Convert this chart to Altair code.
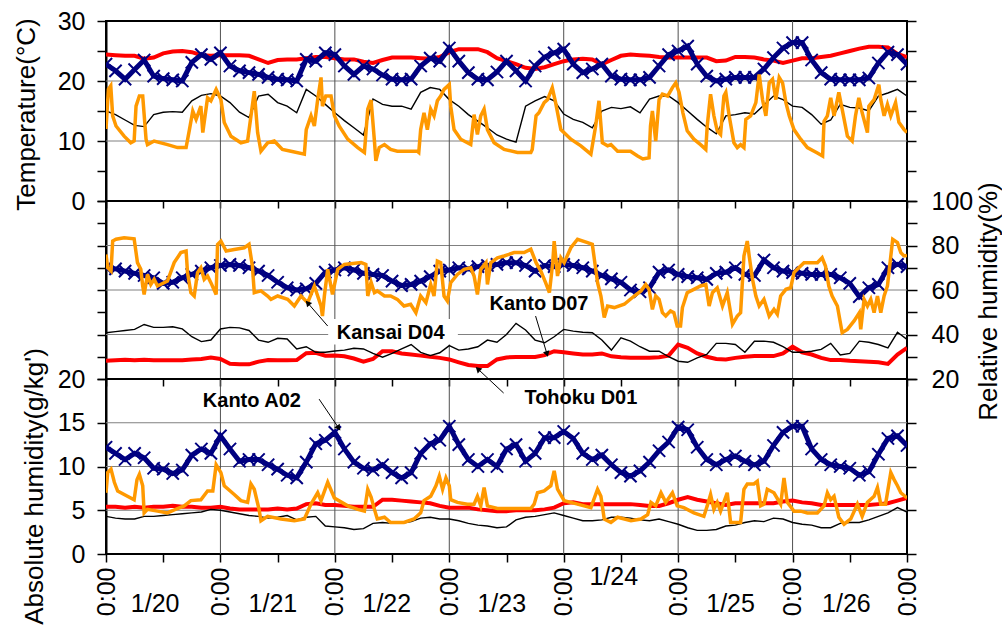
import altair as alt
import pandas as pd

FONT = "Liberation Sans"

# ---- time base: hours from 1/20 0:00 to 1/27 0:00 ----
HOURS = list(range(0, 169, 2))            # 2-hourly readings
DAY_BOUNDS = [24, 48, 72, 96, 120, 144]
HALF_DAYS = list(range(0, 169, 12))

# ---- temperature (deg C), 2-hourly ----
temp_tohoku_d01 = [
    24.4, 24.3, 24.2, 24.2, 23.7, 23.9, 24.6, 24.9, 25.0, 24.8, 24.3, 24.2, 24.3, 24.3, 24.3,
    24.2, 23.6, 23.0, 23.5, 23.6, 23.6, 23.8, 24.0, 24.0, 23.8, 23.6, 23.6, 23.2, 23.0,
    23.5, 23.9, 23.9, 23.9, 23.8, 23.7, 24.0, 24.8, 25.3, 25.3, 25.3, 24.8, 23.8, 23.3,
    22.8, 22.2, 22.0, 22.3, 22.8, 23.3, 23.6, 23.7, 23.6, 22.8, 23.5, 24.2, 24.4, 24.3,
    24.2, 24.0, 23.9, 23.9, 23.9, 23.9, 23.9, 23.3, 23.4, 24.0, 24.0, 23.9, 23.6, 23.4,
    23.0, 23.4, 23.8, 23.8, 24.0, 24.2, 24.6, 25.0, 25.4, 25.7, 25.7, 25.6, 24.5, 24.0,
]
temp_kanto_a02 = [
    22.8, 21.7, 20.3, 21.9, 23.5, 20.8, 20.4, 20.2, 20.0, 23.1, 24.4, 23.6, 24.7, 22.5, 21.7,
    21.4, 21.1, 20.6, 20.3, 20.2, 20.0, 23.6, 23.3, 24.7, 24.4, 22.5, 21.1, 22.5, 22.0,
    21.0, 20.3, 20.2, 20.3, 22.5, 23.8, 23.3, 25.5, 23.3, 21.4, 20.3, 20.2, 21.5, 23.3,
    21.7, 20.0, 22.5, 24.0, 24.7, 25.3, 22.8, 21.4, 22.0, 22.8, 20.8, 20.3, 20.2, 20.2,
    20.6, 22.5, 24.4, 25.0, 25.8, 22.8, 20.8, 20.0, 20.3, 20.6, 20.6, 20.6, 22.0, 23.9,
    25.5, 26.4, 26.4, 23.5, 21.4, 20.3, 20.2, 20.2, 20.2, 20.5, 23.0, 24.8, 24.4, 22.8,
]
temp_kanto_d07 = [
    15.0, 14.4, 13.5, 12.6, 12.4, 14.4, 14.8, 14.9, 14.8, 16.7, 17.6, 17.9, 17.5, 16.4, 14.8,
    13.9, 17.5, 17.8, 16.4, 15.8, 14.7, 18.6, 17.5, 16.1, 14.7, 13.4, 12.2, 11.0, 17.0,
    16.1, 15.8, 15.8, 15.3, 18.1, 18.9, 18.6, 16.9, 15.8, 14.4, 13.3, 12.2, 11.0, 10.3,
    9.8, 15.8, 16.7, 17.4, 16.7, 14.5, 13.6, 13.1, 12.2, 15.0, 15.6, 15.4, 15.7, 14.7,
    17.0, 17.5, 17.5, 16.4, 15.0, 13.6, 12.3, 11.2, 14.2, 14.4, 14.7, 14.5, 16.0, 17.5,
    16.9, 15.8, 15.6, 14.4, 12.8, 13.5, 16.1, 15.6, 15.5, 15.0, 17.5, 18.0, 18.6, 17.5,
]
# Kansai D04 switches on and off sharply, so it is kept as (hour, value) turning points
temp_kansai_d04 = [
    (0, 12.0), (0.5, 18.6), (1.0, 19.2), (1.4, 14.2), (2.1, 12.5), (3.8, 10.8), (5.2, 9.7),
    (5.9, 10.0), (6.3, 15.8), (7.0, 17.5), (7.7, 17.5), (8.4, 10.3), (8.7, 9.4), (10.1, 10.0),
    (12.9, 9.4), (15.0, 8.9), (16.8, 8.9), (17.5, 11.9), (18.2, 15.0), (18.9, 13.6), (19.9, 15.8),
    (20.3, 11.4), (21.3, 17.2), (22.0, 16.7), (23.1, 18.6), (24.1, 16.9), (24.8, 13.1), (26.2, 10.8),
    (28.3, 9.7), (29.7, 10.0), (31.1, 18.3), (31.8, 11.4), (32.5, 8.3), (33.9, 9.7), (35.3, 10.0),
    (37.0, 8.6), (38.8, 8.3), (41.6, 7.8), (42.0, 11.9), (43.0, 14.2), (43.7, 12.5), (44.4, 16.9),
    (45.1, 20.6), (45.4, 15.8), (46.1, 17.5), (47.2, 17.5), (47.9, 14.2), (48.9, 12.5), (50.7, 10.3),
    (52.8, 8.9), (54.2, 8.1), (54.9, 15.3), (55.6, 16.8), (56.3, 10.0), (56.6, 6.7), (57.3, 8.9),
    (58.4, 9.4), (59.7, 8.6), (61.1, 8.3), (65.3, 8.3), (65.6, 8.1), (66.0, 11.9), (66.7, 14.7),
    (67.4, 11.9), (68.1, 15.3), (68.8, 14.2), (69.5, 16.7), (70.2, 17.5), (70.9, 18.6), (72.0, 19.4),
    (72.3, 15.8), (73.0, 11.9), (74.4, 10.3), (76.5, 9.4), (77.2, 14.4), (77.9, 11.1), (78.6, 14.2),
    (79.3, 15.3), (80.0, 11.9), (81.4, 9.7), (83.5, 8.6), (86.3, 8.1), (89.1, 8.1), (89.4, 8.6),
    (90.2, 14.2), (90.8, 14.7), (91.9, 16.4), (92.6, 16.9), (93.6, 18.9), (94.3, 16.4), (95.4, 11.9),
    (97.5, 10.3), (99.6, 9.2), (101.7, 7.8), (102.7, 12.5), (103.4, 16.7), (104.1, 9.7), (105.2, 9.2),
    (105.9, 9.4), (107.3, 8.3), (110.0, 8.3), (111.5, 7.5), (112.6, 7.0), (113.9, 7.2), (114.2, 12.5),
    (114.6, 15.0), (115.3, 10.0), (116.0, 16.9), (116.7, 17.8), (117.8, 17.5), (118.8, 18.9),
    (119.5, 19.7), (120.2, 18.1), (121.0, 14.7), (121.9, 11.7), (123.3, 10.3), (124.7, 9.4),
    (125.8, 8.6), (126.1, 12.5), (126.8, 17.8), (127.5, 14.2), (128.2, 11.7), (128.9, 11.1),
    (129.6, 17.5), (130.0, 18.1), (130.7, 14.2), (131.7, 9.7), (132.4, 8.9), (133.1, 9.4),
    (133.8, 8.9), (134.2, 13.6), (135.2, 14.2), (136.3, 16.4), (137.0, 21.1), (137.7, 16.9),
    (138.4, 14.2), (139.1, 19.7), (139.8, 20.3), (140.5, 16.9), (141.2, 20.6), (141.9, 19.7),
    (142.6, 16.4), (143.3, 14.2), (144.3, 11.9), (145.7, 10.3), (147.1, 8.9), (149.2, 8.0),
    (150.3, 7.5), (150.6, 13.3), (151.3, 14.2), (152.0, 17.2), (152.7, 14.2), (153.7, 18.1),
    (154.4, 15.3), (155.5, 10.8), (156.5, 10.0), (157.2, 14.2), (157.9, 17.2), (158.6, 14.7),
    (159.7, 11.4), (160.0, 15.8), (161.1, 16.9), (162.1, 19.4), (162.5, 16.9), (163.2, 14.2),
    (163.9, 16.1), (164.6, 14.2), (165.6, 16.4), (166.3, 13.1), (167.4, 11.9), (168.0, 11.4),
]

# ---- relative humidity (%), 2-hourly ----
rh_tohoku_d01 = [
    28.2, 28.4, 28.6, 28.4, 28.6, 28.4, 28.4, 28.4, 28.4, 28.8, 29.0, 29.6, 29.0, 26.8, 26.6,
    26.6, 27.8, 28.5, 28.4, 28.4, 28.5, 31.6, 31.8, 30.5, 30.6, 30.2, 29.2, 27.8, 29.0,
    32.5, 32.5, 31.5, 31.0, 30.5, 30.0, 29.5, 28.8, 27.5, 26.3, 25.8, 25.8, 28.8, 29.7,
    29.9, 29.9, 29.9, 30.7, 32.5, 32.0, 31.5, 31.0, 31.0, 31.5, 30.2, 29.8, 29.6, 29.6,
    29.6, 29.8, 30.5, 35.5, 34.0, 31.5, 30.0, 29.0, 28.8, 29.5, 30.0, 30.3, 30.3, 30.3,
    31.5, 34.5, 32.0, 31.0, 29.5, 28.5, 28.5, 28.2, 28.0, 27.8, 27.5, 26.8, 31.0, 34.0,
]
rh_kanto_a02 = [
    70.0, 69.5, 68.5, 67.5, 66.5, 65.5, 63.0, 63.5, 65.5, 67.0, 68.5, 70.0, 71.0, 71.5, 71.0,
    70.0, 68.5, 66.5, 63.5, 61.0, 60.0, 60.5, 63.0, 68.0, 69.0, 70.0, 69.0, 67.5, 67.0,
    66.5, 64.0, 62.0, 62.5, 64.0, 66.0, 68.5, 69.0, 70.0, 69.5, 70.5, 71.0, 71.5, 72.3,
    72.3, 71.0, 68.5, 71.0, 70.5, 71.5, 71.0, 70.0, 68.5, 66.5, 65.0, 63.5, 60.0, 59.2,
    61.0, 68.0, 69.0, 67.0, 66.0, 65.5, 64.8, 67.5, 68.0, 70.0, 67.0, 66.5, 73.5, 70.0,
    68.5, 67.8, 67.5, 67.0, 67.0, 67.0, 65.5, 63.0, 57.0, 61.0, 62.5, 70.0, 71.5, 70.5,
]
rh_kanto_d07 = [
    40.8, 41.3, 41.8, 42.3, 44.5, 43.2, 43.2, 43.5, 42.5, 39.0, 36.8, 37.5, 42.5, 43.2, 43.0,
    41.8, 37.5, 36.5, 38.3, 38.0, 33.5, 34.5, 32.0, 32.0, 32.6, 33.0, 33.8, 33.5, 31.5,
    29.8, 31.5, 33.5, 35.5, 32.0, 30.5, 31.8, 35.0, 33.0, 33.5, 34.5, 37.5, 36.5, 40.0,
    45.0, 42.0, 37.5, 36.3, 39.0, 42.3, 41.5, 41.0, 40.8, 37.5, 33.0, 38.5, 37.0, 34.5,
    32.5, 32.5, 30.0, 28.0, 27.5, 29.5, 31.0, 36.0, 36.0, 35.5, 32.0, 37.0, 37.0, 36.5,
    34.5, 32.0, 32.0, 32.5, 33.3, 36.0, 30.8, 31.5, 37.0, 36.5, 35.5, 34.0, 41.0, 37.8,
]
rh_kansai_d04 = [
    (0, 76.0), (0.35, 70.0), (1.05, 68.5), (1.4, 82.0), (2.1, 82.8), (3.8, 83.5), (5.9, 83.0),
    (6.6, 72.3), (7.3, 69.3), (7.7, 61.8), (8.0, 58.0), (8.7, 67.0), (9.4, 62.5), (10.1, 64.8),
    (10.8, 61.8), (12.9, 64.0), (14.3, 72.3), (15.7, 76.8), (16.8, 77.5), (17.1, 67.8), (17.8, 58.8),
    (18.5, 57.3), (19.2, 67.8), (19.9, 70.0), (20.6, 64.8), (21.3, 66.3), (22.0, 63.3), (23.1, 58.0),
    (23.4, 80.5), (24.1, 82.0), (25.2, 77.5), (26.9, 78.2), (29.0, 79.0), (30.0, 80.5), (30.7, 70.8),
    (31.1, 58.8), (32.5, 59.6), (33.9, 57.3), (34.6, 55.8), (36.0, 57.3), (38.1, 55.8), (39.5, 52.8),
    (40.9, 57.3), (42.3, 54.3), (43.7, 61.8), (45.1, 52.8), (45.4, 48.3), (45.8, 57.3), (46.5, 69.3),
    (47.5, 58.0), (48.6, 69.3), (50.0, 71.5), (53.5, 72.3), (54.5, 71.5), (54.9, 57.3), (55.6, 63.5),
    (56.3, 58.8), (56.9, 59.6), (58.4, 57.3), (59.7, 57.3), (61.1, 55.8), (62.5, 52.8), (63.9, 53.6),
    (65.0, 49.8), (66.0, 57.3), (67.1, 54.3), (68.1, 62.5), (68.8, 57.3), (69.5, 73.0), (70.2, 72.3),
    (70.9, 57.3), (71.6, 55.1), (72.3, 63.3), (73.7, 67.0), (75.1, 69.3), (76.5, 70.0), (77.2, 66.3),
    (77.9, 58.0), (78.6, 69.3), (79.7, 72.3), (80.0, 62.5), (80.7, 72.3), (82.1, 74.5), (83.5, 75.3),
    (85.6, 76.8), (87.7, 76.8), (89.1, 78.3), (90.2, 72.3), (91.2, 68.5), (92.2, 63.3), (93.0, 58.8),
    (93.7, 72.3), (94.0, 82.0), (94.7, 66.3), (95.4, 74.5), (96.1, 72.3), (97.5, 79.0), (98.9, 82.8),
    (101.0, 81.3), (102.0, 80.5), (103.1, 63.3), (103.8, 57.3), (104.5, 47.6), (105.2, 52.8),
    (106.6, 52.1), (108.7, 53.6), (110.8, 57.3), (112.2, 59.6), (113.2, 62.5), (113.9, 60.3),
    (114.6, 51.3), (115.3, 57.3), (116.0, 55.8), (116.7, 49.8), (117.4, 48.3), (118.4, 50.6),
    (119.1, 49.8), (119.8, 43.8), (120.5, 43.8), (120.9, 52.1), (121.9, 58.8), (123.3, 60.3),
    (124.7, 61.8), (125.8, 62.5), (126.5, 52.8), (127.2, 58.8), (128.2, 61.0), (129.3, 52.8),
    (130.3, 58.8), (131.4, 44.6), (132.4, 48.3), (133.1, 49.8), (133.8, 75.3), (134.5, 82.0),
    (134.9, 75.3), (135.6, 64.8), (136.3, 57.3), (137.0, 52.8), (138.0, 55.8), (139.1, 48.3),
    (140.1, 51.3), (140.8, 49.1), (141.5, 57.3), (142.6, 60.3), (143.6, 61.0), (144.3, 67.8),
    (145.3, 70.0), (146.4, 72.3), (149.2, 72.3), (150.2, 74.5), (150.9, 70.8), (151.6, 61.8),
    (152.3, 57.3), (153.4, 52.8), (154.4, 40.8), (155.5, 42.3), (156.9, 46.1), (158.0, 49.8),
    (158.3, 42.3), (159.0, 55.8), (159.7, 52.8), (160.4, 55.8), (161.1, 49.8), (161.8, 57.3),
    (162.5, 49.8), (163.2, 57.3), (163.9, 61.8), (165.0, 82.8), (166.0, 81.3), (166.7, 76.8),
    (167.4, 75.3), (168.0, 75.5),
]

# ---- absolute humidity (g/kg'), 2-hourly ----
ah_tohoku_d01 = [
    5.4, 5.4, 5.3, 5.4, 5.3, 5.4, 5.4, 5.5, 5.4, 5.4, 5.3, 5.3, 5.4, 5.2, 5.1,
    5.1, 5.1, 5.1, 5.2, 5.1, 5.2, 5.7, 5.8, 5.6, 5.6, 5.5, 5.4, 5.4, 5.4,
    6.2, 6.2, 6.1, 6.0, 5.9, 5.8, 5.5, 5.3, 5.3, 5.3, 5.1, 5.0, 4.9, 4.9,
    5.0, 5.0, 5.0, 5.1, 5.3, 5.8, 5.9, 5.7, 5.7, 5.7, 5.7, 5.7, 5.7, 5.6,
    5.5, 5.5, 5.8, 6.2, 6.5, 6.2, 6.0, 5.8, 5.6, 5.8, 5.8, 5.8, 5.8, 5.8,
    6.0, 6.1, 5.9, 5.8, 5.6, 5.6, 5.6, 5.6, 5.6, 5.6, 5.7, 5.8, 6.1, 6.4,
]
ah_kanto_a02 = [
    12.2, 11.5, 10.8, 11.5, 11.0, 9.8, 9.7, 9.2, 9.6, 11.3, 12.0, 11.5, 13.5, 12.0, 10.6,
    10.8, 10.8, 10.2, 9.7, 9.0, 8.7, 10.5, 12.6, 13.0, 13.9, 12.0, 10.5, 9.8, 9.6,
    10.2, 9.3, 8.7, 9.3, 11.5, 12.6, 13.0, 14.6, 12.5, 10.8, 10.0, 10.8, 10.0, 12.0,
    12.5, 10.6, 11.5, 13.3, 13.3, 14.0, 13.2, 11.5, 10.8, 11.3, 10.2, 9.3, 8.9, 9.5,
    10.5, 11.8, 12.8, 14.5, 14.2, 12.2, 10.8, 10.2, 10.8, 11.2, 10.6, 10.2, 10.6, 12.4,
    13.9, 14.6, 14.6, 12.0, 10.8, 10.2, 10.0, 9.8, 9.0, 9.4, 11.4, 13.2, 13.5, 12.4,
]
ah_kanto_d07 = [
    4.3, 4.1, 4.0, 4.0, 4.3, 4.3, 4.4, 4.5, 4.6, 4.7, 4.8, 5.1, 5.0, 4.8, 4.6,
    4.4, 4.3, 4.1, 4.2, 4.4, 3.9, 4.2, 4.3, 3.2, 3.1, 3.0, 2.8, 2.9, 3.5,
    3.6, 3.5, 3.5, 3.7, 4.1, 4.2, 4.0, 4.0, 3.8, 3.5, 3.3, 3.2, 3.0, 3.1,
    3.9, 4.2, 4.3, 4.5, 4.7, 4.4, 4.1, 3.8, 3.8, 3.9, 4.2, 4.2, 4.1, 3.9,
    3.8, 4.0, 3.7, 3.4, 3.0, 2.7, 2.7, 2.8, 3.2, 3.3, 3.6, 3.8, 3.7, 4.1,
    4.0, 3.6, 3.4, 3.3, 3.0, 3.0, 3.5, 3.6, 3.6, 3.9, 4.3, 4.7, 5.3, 4.8,
]
ah_kansai_d04 = [
    (0, 7.0), (0.35, 9.3), (1.05, 9.7), (1.75, 8.2), (2.45, 7.2), (4.5, 6.6), (5.9, 6.2), (6.5, 8.5),
    (7.0, 9.1), (7.7, 7.8), (8.0, 4.7), (8.7, 5.1), (10.8, 4.9), (12.9, 4.7), (15.0, 5.2), (16.4, 5.5),
    (17.8, 6.1), (19.9, 6.2), (21.3, 7.2), (22.4, 7.2), (23.1, 10.2), (24.1, 9.3), (24.8, 7.8),
    (26.9, 6.8), (28.3, 6.1), (29.7, 5.9), (30.4, 8.0), (31.1, 7.4), (32.1, 5.1), (32.5, 3.8),
    (33.9, 4.3), (36.7, 4.0), (39.5, 3.8), (41.6, 4.0), (43.0, 5.7), (44.4, 7.0), (45.1, 6.1),
    (46.5, 8.2), (47.9, 6.4), (50.7, 5.5), (52.8, 5.1), (54.2, 4.9), (54.9, 7.4), (55.6, 6.5),
    (56.3, 5.1), (56.9, 4.0), (58.4, 4.2), (59.7, 3.6), (62.5, 3.6), (64.6, 4.0), (66.0, 4.7),
    (66.7, 6.1), (68.1, 6.6), (69.2, 7.8), (69.9, 8.9), (70.6, 7.4), (71.3, 8.7), (72.0, 7.8),
    (72.3, 6.2), (73.7, 5.9), (75.8, 5.7), (77.2, 5.7), (77.9, 6.6), (78.6, 5.5), (79.3, 7.6),
    (80.0, 5.5), (82.1, 5.2), (85.0, 5.2), (89.1, 5.2), (89.8, 5.7), (90.5, 7.0), (91.9, 7.2),
    (93.3, 7.8), (94.0, 9.5), (94.7, 7.4), (96.1, 6.1), (98.9, 5.7), (101.7, 5.3), (103.1, 7.4),
    (103.8, 6.6), (104.5, 4.0), (105.9, 3.6), (107.3, 4.2), (110.1, 3.8), (112.2, 4.0), (113.6, 4.5),
    (114.3, 5.9), (115.3, 5.5), (116.4, 7.0), (117.4, 5.9), (118.8, 7.0), (119.8, 5.5), (121.2, 5.3),
    (123.3, 4.7), (125.4, 4.3), (126.1, 5.5), (126.8, 6.8), (127.5, 5.1), (128.2, 5.9), (128.9, 4.9),
    (130.3, 7.0), (131.0, 3.6), (133.1, 3.6), (133.8, 7.4), (134.5, 8.0), (135.9, 8.0), (136.6, 8.3),
    (137.3, 5.5), (138.0, 5.7), (138.7, 7.4), (140.1, 7.0), (141.5, 5.7), (142.2, 8.7), (142.9, 5.9),
    (144.3, 4.9), (145.7, 4.9), (147.1, 4.7), (149.2, 4.7), (150.6, 5.5), (151.3, 7.0), (152.0, 6.2),
    (152.7, 6.6), (153.7, 4.2), (154.8, 3.4), (156.2, 4.0), (157.6, 5.7), (158.6, 4.3), (159.7, 5.9),
    (161.1, 6.6), (161.8, 7.6), (162.5, 5.7), (163.5, 5.7), (164.6, 9.3), (165.3, 8.5), (166.0, 7.8),
    (166.7, 7.0), (168.0, 6.4),
]

# ---- axis ticks / gridlines ----
TEMP_DOMAIN, RH_DOMAIN, AH_DOMAIN = [0, 30], [20, 100], [0, 20]
TEMP_TICKS, TEMP_GRID = [0, 5, 10, 15, 20, 25, 30], [10, 20]
RH_TICKS, RH_GRID = [20, 30, 40, 50, 60, 70, 80, 90, 100], [40, 60, 80]
AH_TICKS, AH_GRID = [0, 5, 10, 15, 20], [5, 10, 15]

# ---- annotations ----
DATE_LABELS = ["1/20", "1/21", "1/22", "1/23", "1/24", "1/25", "1/26"]
DATE_HOURS = [10.3, 35.0, 58.9, 83.0, 106.5, 131.0, 155.3]
DATE_LEVEL = [-5.7, -5.7, -5.7, -5.7, -2.6, -5.7, -5.7]

RH_NOTES = pd.DataFrame({"label": ["Kansai D04", "Kanto D07"], "h": [59.7, 90.8], "v": [40.7, 53.7]})
RH_ARROWS = pd.DataFrame({
    "h": [46.5, 90.1, 83.4], "v": [43.8, 48.3, 13.7],
    "h2": [42.3, 92.5, 78.0], "v2": [54.2, 31.2, 24.5],
    "angle": [319, 164, 313],
})
RH_NOTE_BOX = pd.DataFrame({"h": [46.6], "h2": [73.8], "v": [47.0], "v2": [35.5]})
AH_NOTES = pd.DataFrame({"label": ["Kanto A02", "Tohoku D01"], "h": [30.6, 99.6], "v": [17.5, 17.8]})
AH_ARROWS = pd.DataFrame({"h": [44.7], "v": [17.7], "h2": [48.8], "v2": [14.4], "angle": [145]})

RED, NAVY, BLACK, ORANGE = "#FF0000", "#000080", "#000000", "#FF9900"
XMARK = "M-1,-1L1,1M-1,1L1,-1"
WIDTH = 801
X_SCALE = alt.Scale(domain=[0, 168], nice=False, zero=False)


def yenc(domain, axis=None, field="v"):
    return alt.Y(f"{field}:Q", scale=alt.Scale(domain=domain, nice=False, zero=False), axis=axis)


def frame(values):
    return pd.DataFrame({"h": HOURS, "v": values})


def pairs(points):
    return pd.DataFrame({"h": [p[0] for p in points], "v": [p[1] for p in points]})


def every(step):
    return f"datum.value % {step} == 0 ? datum.label : ''"


def build_panel(domain, grid, left_axis, right_axis, x_axis, tohoku, kanto_a02, kanto_d07, kansai,
                height, box=None, arrows=None, notes=None, extra_text=None):
    """One strip of the chart: gridlines, the four dwellings, and any call-outs."""
    def X(field="h"):
        return alt.X(f"{field}:Q", scale=X_SCALE, axis=x_axis)

    layers = [
        alt.Chart(pd.DataFrame({"v": grid})).mark_rule(color="#808080", strokeWidth=1).encode(
            x=X(), y=yenc(domain, axis=left_axis)).transform_calculate(h="0"),
        alt.Chart(pd.DataFrame({"h": DAY_BOUNDS})).mark_rule(color="#505050", strokeWidth=1).encode(x=X()),
        alt.Chart(pd.DataFrame({"h": [0], "v": [domain[0]]})).mark_rule(opacity=0).encode(
            x=X(), y=yenc(domain, axis=right_axis)),
    ]
    # the hgrid layer above only carries the axis; draw horizontal gridlines full width
    layers[0] = alt.Chart(pd.DataFrame({"v": grid})).mark_rule(color="#808080", strokeWidth=1).encode(
        y=yenc(domain, axis=left_axis))
    if box is not None:
        layers.append(alt.Chart(box).mark_rect(color="white").encode(
            x=X(), x2="h2:Q", y=yenc(domain), y2="v2:Q"))
    layers.append(alt.Chart(frame(tohoku)).mark_line(color=RED, strokeWidth=4, clip=True).encode(
        x=X(), y=yenc(domain)))
    a02 = frame(kanto_a02)
    layers.append(alt.Chart(a02).mark_line(color=NAVY, strokeWidth=5, clip=True).encode(
        x=X(), y=yenc(domain)))
    layers.append(alt.Chart(a02).mark_point(shape=XMARK, size=150, color=NAVY, strokeWidth=2,
                                            filled=False, opacity=1, clip=True).encode(
        x=X(), y=yenc(domain)))
    layers.append(alt.Chart(frame(kanto_d07)).mark_line(color=BLACK, strokeWidth=1.4, clip=True).encode(
        x=X(), y=yenc(domain)))
    layers.append(alt.Chart(pairs(kansai)).mark_line(color=ORANGE, strokeWidth=3.5, clip=True).encode(
        x=X(), y=yenc(domain)))
    if arrows is not None:
        layers.append(alt.Chart(arrows).mark_rule(color="black", strokeWidth=1).encode(
            x=X(), x2="h2:Q", y=yenc(domain), y2="v2:Q"))
        layers.append(alt.Chart(arrows).mark_point(shape="triangle-up", filled=True, color="black",
                                                   size=45, opacity=1).encode(
            x=X("h2"), y=yenc(domain, field="v2"), angle=alt.Angle("angle:Q", scale=None)))
    if notes is not None:
        layers.append(alt.Chart(notes).mark_text(font=FONT, fontSize=20, fontWeight="bold",
                                                 color="black").encode(
            x=X(), y=yenc(domain), text="label:N"))
    if extra_text is not None:
        layers.append(alt.Chart(extra_text).mark_text(font=FONT, fontSize=25, color="black").encode(
            x=X(), y=yenc(domain), text="label:N"))
    return alt.layer(*layers).resolve_scale(y="independent").properties(width=WIDTH, height=height)


tick_only_x = alt.Axis(values=HALF_DAYS, labels=False, domain=False, tickSize=7, title=None)

temp_panel = build_panel(
    TEMP_DOMAIN, TEMP_GRID,
    alt.Axis(values=TEMP_TICKS, labelExpr=every(10), tickSize=9, labelPadding=12,
             title="Temperature(°C)", titleAngle=270, titleAlign="center", titleBaseline="middle",
             titleX=-80, titleY=93),
    alt.Axis(values=TEMP_TICKS, labels=False, domain=False, tickSize=9, orient="right", title=None),
    tick_only_x,
    temp_tohoku_d01, temp_kanto_a02, temp_kanto_d07, temp_kansai_d04, 180,
)

rh_panel = build_panel(
    RH_DOMAIN, RH_GRID,
    alt.Axis(values=RH_TICKS, labels=False, tickSize=9, title=None),
    alt.Axis(values=RH_TICKS, labelExpr=every(20), tickSize=10, labelPadding=14, domain=False,
             orient="right", labelAlign="left",
             title="Relative humidity(%)", titleAngle=270, titleAlign="center", titleBaseline="middle",
             titleX=81, titleY=100),
    tick_only_x,
    rh_tohoku_d01, rh_kanto_a02, rh_kanto_d07, rh_kansai_d04, 178,
    box=RH_NOTE_BOX, arrows=RH_ARROWS, notes=RH_NOTES,
)

day_axis = alt.Axis(values=HALF_DAYS, labelExpr="datum.value % 24 == 0 ? '0:00' : ''", domain=False,
                    tickSize=8, labelAngle=270, labelAlign="right", labelBaseline="middle",
                    labelPadding=5, title=None)
dates = pd.DataFrame({"label": DATE_LABELS, "h": DATE_HOURS, "v": DATE_LEVEL})
ah_panel = build_panel(
    AH_DOMAIN, AH_GRID,
    alt.Axis(values=AH_TICKS, tickSize=9, labelPadding=12,
             title="Absolute humidity(g/kg')", titleAngle=270, titleAlign="center", titleBaseline="middle",
             titleX=-72, titleY=107),
    alt.Axis(values=AH_TICKS, labels=False, domain=False, tickSize=9, orient="right", title=None),
    day_axis,
    ah_tohoku_d01, ah_kanto_a02, ah_kanto_d07, ah_kansai_d04, 175,
    arrows=AH_ARROWS, notes=AH_NOTES, extra_text=dates,
)

chart = alt.vconcat(temp_panel, rh_panel, ah_panel, spacing=0, bounds="flush").properties(
    padding={"left": 12, "top": 8, "right": 0, "bottom": 0},
    background="white",
).configure_view(
    stroke="black", strokeWidth=2,
).configure_axis(
    labelFont=FONT, labelFontSize=25, labelColor="black",
    titleFont=FONT, titleFontSize=26, titleFontWeight="normal", titleColor="black",
    tickColor="black", tickWidth=1.5, domainColor="black", domainWidth=2,
    grid=False, labelOverlap=False, labelFlush=False,
)

chart.save("out.html", embed_options={"renderer": "svg", "actions": False})
